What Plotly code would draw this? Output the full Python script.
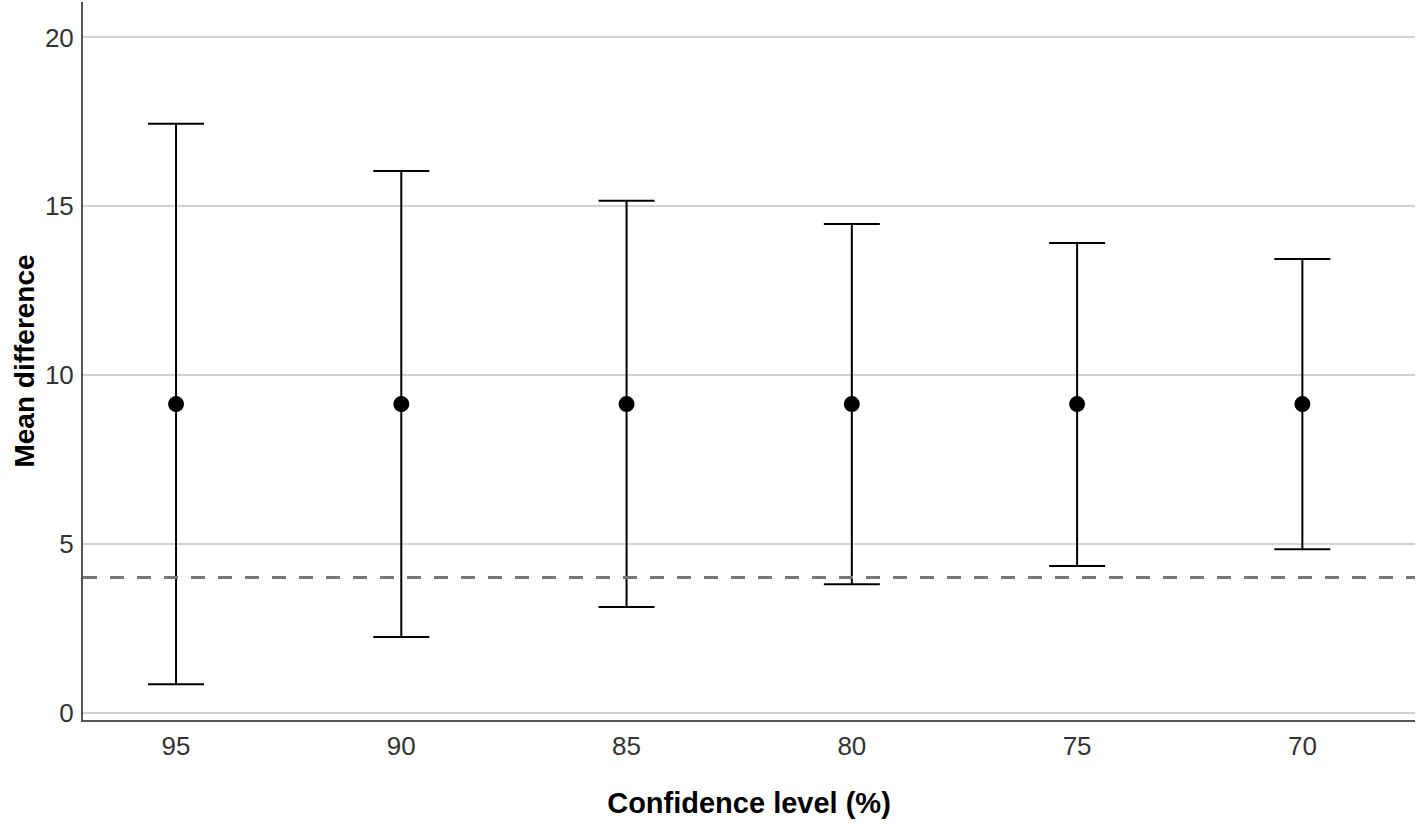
import plotly.graph_objects as go

confidence_levels = ["95", "90", "85", "80", "75", "70"]
mean_diff = [9.14, 9.14, 9.14, 9.14, 9.14, 9.14]
upper = [17.44, 16.04, 15.16, 14.47, 13.91, 13.44]
lower = [0.84, 2.24, 3.13, 3.80, 4.34, 4.84]
reference_value = 4.0

err_plus = [u - m for u, m in zip(upper, mean_diff)]
err_minus = [m - l for m, l in zip(mean_diff, lower)]

fig = go.Figure()
fig.add_trace(go.Scatter(
    x=confidence_levels, y=mean_diff, mode="markers",
    marker=dict(color="black", size=16),
    error_y=dict(type="data", symmetric=False, array=err_plus, arrayminus=err_minus,
                 color="black", thickness=2, width=28),
    showlegend=False,
))

fig.add_shape(type="line", xref="paper", yref="y", x0=0, x1=1,
              y0=reference_value, y1=reference_value,
              line=dict(color="#777777", width=3, dash="14px,13px"), layer="above")

fig.update_layout(
    width=1418, height=826,
    margin=dict(l=83, r=3, t=2, b=106),
    paper_bgcolor="white", plot_bgcolor="white",
    font=dict(family="Liberation Sans, Arial, sans-serif", color="#222222"),
    xaxis=dict(
        type="category", range=[-0.413, 5.5],
        showgrid=False, showline=True, linecolor="#555555", linewidth=2,
        ticks="", tickfont=dict(size=26, color="#333333"), ticklabelstandoff=2,
        title=dict(text="<b>Confidence level (%)</b>", font=dict(size=29, color="black"), standoff=32),
        zeroline=False,
    ),
    yaxis=dict(
        range=[-0.22, 21.05],
        tickvals=[0, 5, 10, 15, 20],
        showgrid=True, gridcolor="#d3d3d3", gridwidth=2,
        showline=True, linecolor="#555555", linewidth=2,
        ticks="", tickfont=dict(size=26, color="#333333"), ticklabelstandoff=2,
        title=dict(text="<b>Mean difference</b>", font=dict(size=28, color="black"), standoff=2),
        zeroline=False,
    ),
)

fig.write_html("out.html", config={"displayModeBar": False},
               post_script="document.body.style.margin='0';")
